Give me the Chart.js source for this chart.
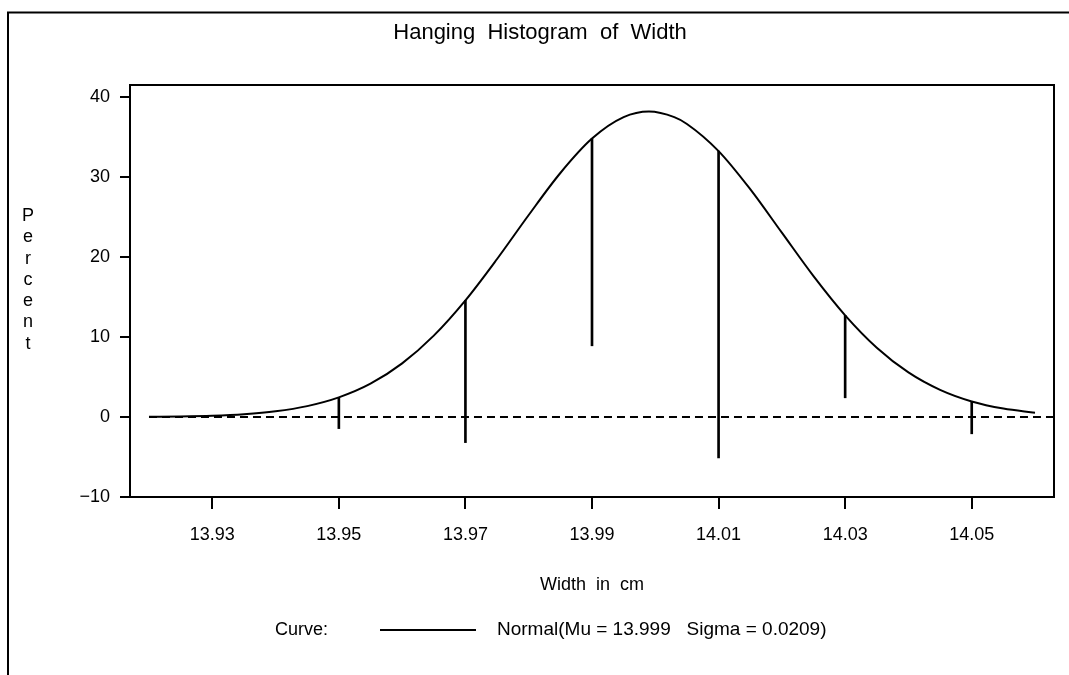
<!DOCTYPE html>
<html>
<head>
<meta charset="utf-8">
<title>Hanging Histogram of Width</title>
<script src="https://cdn.jsdelivr.net/npm/chart.js@4"></script>
<style>
  html, body { margin: 0; padding: 0; background: #fff; }
  #wrap { width: 1069px; height: 675px; }
</style>
</head>
<body>
<div id="wrap"><canvas id="chart" width="1069" height="675"></canvas></div>
<script>
'use strict';

// fitted normal curve (percent per 0.02 bin)
const curveX = [13.920, 13.925, 13.930, 13.935, 13.940, 13.945, 13.950, 13.955, 13.960, 13.965,
    13.970, 13.975, 13.980, 13.985, 13.990, 13.995, 13.999, 14.003, 14.005, 14.010, 14.015,
    14.020, 14.025, 14.030, 14.035, 14.040, 14.045, 14.050, 14.055, 14.060];
const curveY = [0.03, 0.07, 0.16, 0.35, 0.71, 1.36, 2.45, 4.16, 6.70, 10.17,
    14.58, 19.75, 25.25, 30.50, 34.80, 37.48, 38.18, 37.48, 36.63, 33.24, 28.48,
    23.04, 17.61, 12.71, 8.66, 5.57, 3.39, 1.94, 1.05, 0.54];

// hanging bars: top sits on the curve, bottom = top - bin percent
const binMid = [13.95, 13.97, 13.99, 14.01, 14.03, 14.05];
const barTop = [2.45, 14.58, 34.80, 33.24, 12.71, 1.94];
const barBottom = [-1.45, -3.2, 8.9, -5.1, 2.4, -2.1];

// reference line at zero
const zeroX = [13.92, 14.063];
const zeroY = [0, 0];

const xTicks = [13.93, 13.95, 13.97, 13.99, 14.01, 14.03, 14.05];
const yTicks = [-10, 0, 10, 20, 30, 40];

const FONT = "'Liberation Sans', Arial, sans-serif";

function pairs(xs, ys) {
    return xs.map((x, i) => ({ x: x, y: ys[i] }));
}

const decorations = {
    id: 'decorations',
    afterDraw(chart) {
        const ctx = chart.ctx;
        const a = chart.chartArea;
        ctx.save();

        // outer frame (top + left)
        ctx.strokeStyle = '#000';
        ctx.lineWidth = 2;
        ctx.beginPath();
        ctx.moveTo(8, 675);
        ctx.lineTo(8, 12.5);
        ctx.lineTo(1069, 12.5);
        ctx.stroke();

        // plot box
        ctx.strokeRect(a.left, a.top, a.right - a.left, a.bottom - a.top);

        ctx.fillStyle = '#000';
        ctx.textAlign = 'center';
        ctx.textBaseline = 'middle';

        // title
        ctx.font = '22px ' + FONT;
        ctx.fillText('Hanging  Histogram  of  Width', 540, 33);

        // y title, one letter per line
        ctx.font = '18px ' + FONT;
        const word = 'Percent';
        for (let i = 0; i < word.length; i++) {
            ctx.fillText(word[i], 28, 216 + i * 21.3);
        }

        // x title
        ctx.fillText('Width  in  cm', 592, 585);

        // legend
        const ly = 630;
        ctx.textAlign = 'left';
        ctx.fillText('Curve:', 275, ly);
        ctx.lineWidth = 2;
        ctx.beginPath();
        ctx.moveTo(380, ly);
        ctx.lineTo(476, ly);
        ctx.stroke();
        ctx.font = '19px ' + FONT;
        ctx.fillText('Normal(Mu = 13.999   Sigma = 0.0209)', 497, ly);

        ctx.restore();
    }
};

const ctx = document.getElementById('chart').getContext('2d');
const chart = new Chart(ctx, {
    type: 'line',
    data: {
        datasets: [
            {
                type: 'bar',
                label: 'Bins',
                data: binMid.map((x, i) => ({ x: x, y: [barBottom[i], barTop[i]] })),
                backgroundColor: '#000',
                borderWidth: 0,
                barThickness: 2
            },
            {
                label: 'Zero',
                data: pairs(zeroX, zeroY),
                borderColor: '#000',
                borderWidth: 2,
                borderDash: [8, 5],
                pointRadius: 0
            },
            {
                label: 'Normal',
                data: pairs(curveX, curveY),
                borderColor: '#000',
                borderWidth: 2,
                pointRadius: 0,
                cubicInterpolationMode: 'monotone'
            }
        ]
    },
    options: {
        responsive: false,
        animation: false,
        devicePixelRatio: 1,
        layout: { padding: { left: 0, top: 85, right: 15, bottom: 0 } },
        plugins: {
            legend: { display: false },
            title: { display: false },
            tooltip: { enabled: false }
        },
        scales: {
            x: {
                type: 'linear',
                min: 13.917,
                max: 14.063,
                offset: false,
                afterFit: (s) => { s.height = 178; },
                afterBuildTicks: (s) => { s.ticks = xTicks.map(v => ({ value: v })); },
                border: { display: false },
                grid: {
                    drawOnChartArea: false,
                    drawTicks: true,
                    tickLength: 12,
                    tickColor: '#000',
                    lineWidth: 2,
                    offset: false
                },
                ticks: {
                    color: '#000',
                    font: { family: FONT, size: 18 },
                    padding: 15,
                    maxRotation: 0,
                    callback: (v) => Number(v).toFixed(2)
                }
            },
            y: {
                min: -10,
                max: 41.5,
                afterFit: (s) => { s.width = 130; },
                afterBuildTicks: (s) => { s.ticks = yTicks.map(v => ({ value: v })); },
                border: { display: false },
                grid: {
                    drawOnChartArea: false,
                    drawTicks: true,
                    tickLength: 10,
                    tickColor: '#000',
                    lineWidth: 2
                },
                ticks: {
                    color: '#000',
                    font: { family: FONT, size: 18 },
                    padding: 10,
                    callback: (v) => (v < 0 ? '\u2212' + Math.abs(v) : String(v))
                }
            }
        }
    },
    plugins: [decorations]
});
</script>
</body>
</html>
